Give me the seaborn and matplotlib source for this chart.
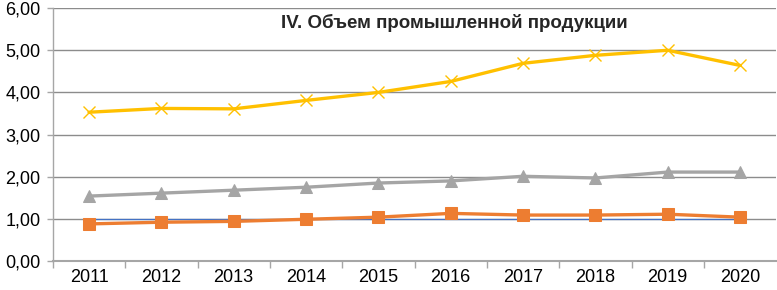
import numpy as np
import pandas as pd
import matplotlib
matplotlib.use('Agg')
import matplotlib.pyplot as plt
import seaborn as sns
from matplotlib.ticker import FuncFormatter, FixedLocator

# data
years = [2011, 2012, 2013, 2014, 2015, 2016, 2017, 2018, 2019, 2020]
base = [1.00, 1.00, 1.00, 1.00, 1.00, 1.00, 1.00, 1.00, 1.00, 1.00]
orange_vals = [0.88, 0.92, 0.94, 0.99, 1.04, 1.13, 1.09, 1.09, 1.11, 1.04]
gray_vals = [1.54, 1.61, 1.68, 1.75, 1.85, 1.90, 2.01, 1.97, 2.11, 2.11]
yellow_vals = [3.53, 3.62, 3.61, 3.81, 4.00, 4.26, 4.69, 4.88, 5.00, 4.64]
y_ticks = [0, 1, 2, 3, 4, 5, 6]
title = 'IV. Объем промышленной продукции'

sns.set_style('white')
plt.rcParams['font.family'] = ['Liberation Sans', 'DejaVu Sans']

fig = plt.figure(figsize=(7.77, 2.90), dpi=100)
ax = fig.add_axes([0.068, 0.10, 0.931, 0.872])

sns.lineplot(x=years, y=base, ax=ax, color='#4472C4', linewidth=0.9, zorder=1)
sns.lineplot(x=years, y=gray_vals, ax=ax, color='#A5A5A5', linewidth=2.4,
             marker='^', markersize=8, markeredgecolor='#A5A5A5', zorder=3)
sns.lineplot(x=years, y=orange_vals, ax=ax, color='#ED7D31', linewidth=2.4,
             marker='s', markersize=8, markeredgecolor='#ED7D31', zorder=4)
sns.lineplot(x=years, y=yellow_vals, ax=ax, color='#FFC000', linewidth=2.4,
             marker='x', markersize=9, markeredgewidth=1.0, markeredgecolor='#FFC000', zorder=5)

ax.set_xlim(years[0] - 0.5, years[-1] + 0.5)
ax.set_ylim(0, 6)
ax.set_yticks(y_ticks)
ax.yaxis.set_major_formatter(FuncFormatter(lambda v, p: f'{v:.2f}'.replace('.', ',')))
ax.set_xticks(years)
ax.set_xticklabels([str(y) for y in years])
ax.xaxis.set_minor_locator(FixedLocator([y + 0.5 for y in years[:-1]] + [years[0] - 0.5]))
ax.tick_params(axis='x', which='major', length=0, labelsize=13, colors='black', pad=6)
ax.tick_params(axis='x', which='minor', length=5, width=1, color='#A6A6A6', bottom=True)
ax.tick_params(axis='y', which='major', length=4, width=1, color='#A6A6A6', labelsize=13,
               left=True, pad=5)
for lbl in ax.get_yticklabels():
    lbl.set_color('black')

ax.grid(axis='y', color='#8C8C8C', linewidth=1, zorder=0)
ax.grid(axis='x', visible=False)
for s in ['top', 'right']:
    ax.spines[s].set_visible(False)
ax.spines['left'].set_color('#A6A6A6')
ax.spines['bottom'].set_color('#A6A6A6')
ax.spines['left'].set_linewidth(1)
ax.spines['bottom'].set_linewidth(1.5)

ax.text(0.555, 0.94, title, transform=ax.transAxes, ha='center', va='center',
        fontsize=13.5, fontweight='bold')

plt.savefig('out.png', dpi=100)
